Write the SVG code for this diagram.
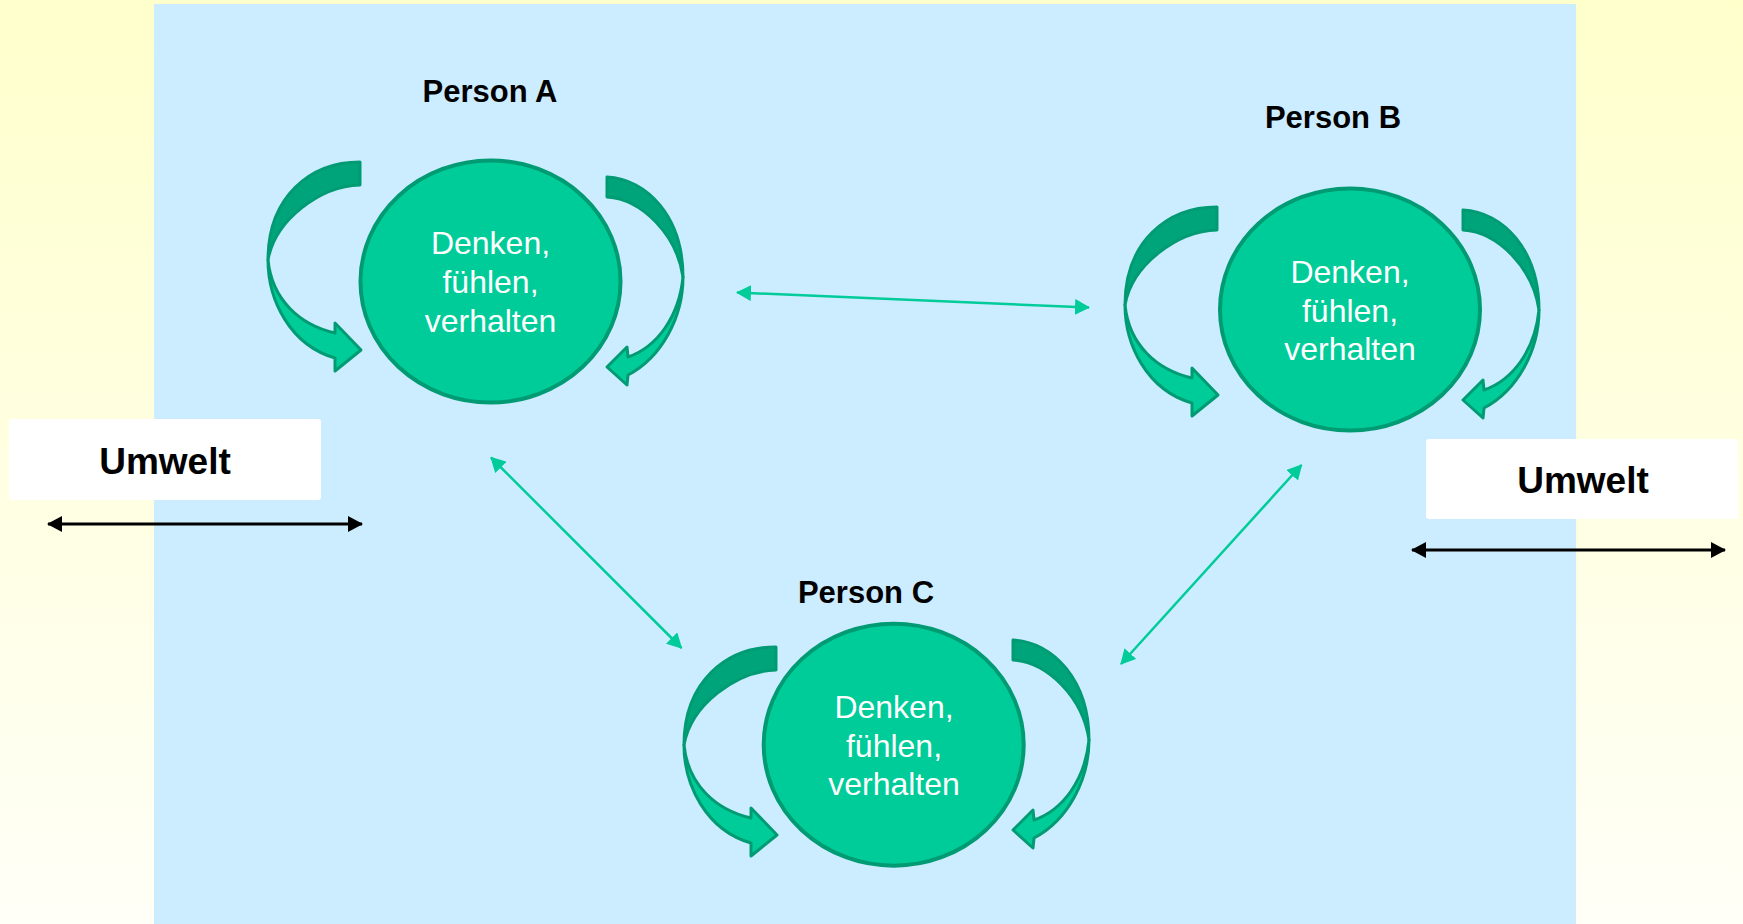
<svg xmlns="http://www.w3.org/2000/svg" xmlns:xlink="http://www.w3.org/1999/xlink" width="1743" height="924" viewBox="0 0 1743 924">
<style>
.person{font-family:"Liberation Sans",Arial,sans-serif;font-weight:bold;font-size:31px;fill:#000;text-anchor:middle}
.inner{font-family:"Liberation Sans",Arial,sans-serif;font-size:32px;fill:#fff;text-anchor:middle}
.umwelt{font-family:"Liberation Sans",Arial,sans-serif;font-weight:bold;font-size:37px;fill:#000;text-anchor:middle}
.circle{fill:#00CC99;stroke:#009B72;stroke-width:4}
.dark{fill:#00A47B;stroke:#009B72;stroke-width:3;stroke-linejoin:round}
.light{fill:#00CC99;stroke:#009B72;stroke-width:3;stroke-linejoin:round}
.conn{stroke:#00CC99;stroke-width:2.5;fill:none}
.env{stroke:#000;stroke-width:3;fill:none}
.box{fill:#fff}
</style>
<defs>
<linearGradient id="bg" x1="0" y1="0" x2="0" y2="1">
<stop offset="0" stop-color="#FFFFCC"/>
<stop offset="1" stop-color="#FFFFF7"/>
</linearGradient>
<marker id="gh" viewBox="0 0 15 16" refX="14" refY="8" markerWidth="15" markerHeight="16" markerUnits="userSpaceOnUse" orient="auto-start-reverse">
<path d="M0,0 L15,8 L0,16 Z" fill="#00CC99"/>
</marker>
<marker id="bh" viewBox="0 0 15 16" refX="14" refY="8" markerWidth="15" markerHeight="16" markerUnits="userSpaceOnUse" orient="auto-start-reverse">
<path d="M0,0 L15,8 L0,16 Z" fill="#000"/>
</marker>
<g id="leftArrow">
<path class="dark" d="M0,0 L0,23 C-40,24 -85,58 -92,98 C-92,35 -50,0 0,0 Z"/>
<path class="light" d="M-92,98 C-92,138 -70,183 -25,196 L-25,209 L1,188 L-25,161 L-25,171 C-60,163 -88,138 -92,98 Z"/>
</g>
<g id="rightArrow">
<path class="dark" d="M0,0 L0,20 C35,22 70,58 76,100 C76,40 40,2 0,0 Z"/>
<path class="light" d="M76,100 C76,140 55,180 21,198 L20,208 L0,190 L20,170 L21,180 C50,170 72,140 76,100 Z"/>
</g>
</defs>
<rect x="0" y="0" width="1743" height="924" fill="url(#bg)"/>
<rect x="154" y="4" width="1422" height="920" fill="#CCECFF"/>

<g id="umwelt-left">
<rect class="box" x="9" y="419" width="312" height="81" rx="3"/>
<text class="umwelt" x="165" y="474">Umwelt</text>
</g>
<g id="umwelt-right">
<rect class="box" x="1426" y="439" width="312" height="80" rx="3"/>
<text class="umwelt" x="1583" y="493">Umwelt</text>
</g>

<g id="connectors">
<line class="conn" x1="737" y1="292.5" x2="1089" y2="307.5" marker-start="url(#gh)" marker-end="url(#gh)"/>
<line class="conn" x1="491" y1="457.5" x2="681.5" y2="648" marker-start="url(#gh)" marker-end="url(#gh)"/>
<line class="conn" x1="1301.5" y1="465" x2="1121" y2="664" marker-start="url(#gh)" marker-end="url(#gh)"/>
<line class="env" x1="48" y1="524" x2="362" y2="524" marker-start="url(#bh)" marker-end="url(#bh)"/>
<line class="env" x1="1412" y1="550" x2="1725" y2="550" marker-start="url(#bh)" marker-end="url(#bh)"/>
</g>

<g id="person-a">
<text class="person" x="490" y="102">Person A</text>
<use xlink:href="#leftArrow" transform="translate(360,162)"/>
<use xlink:href="#rightArrow" transform="translate(607,177)"/>
<ellipse class="circle" cx="490.5" cy="281.5" rx="130" ry="121"/>
<text class="inner" x="490.5" y="254">Denken,</text>
<text class="inner" x="490.5" y="293">fühlen,</text>
<text class="inner" x="490.5" y="332">verhalten</text>
</g>

<g id="person-b">
<text class="person" x="1333" y="128">Person B</text>
<use xlink:href="#leftArrow" transform="translate(1217,207)"/>
<use xlink:href="#rightArrow" transform="translate(1463,210)"/>
<ellipse class="circle" cx="1350" cy="309.5" rx="130" ry="121"/>
<text class="inner" x="1350" y="283">Denken,</text>
<text class="inner" x="1350" y="322">fühlen,</text>
<text class="inner" x="1350" y="360">verhalten</text>
</g>

<g id="person-c">
<text class="person" x="866" y="603">Person C</text>
<use xlink:href="#leftArrow" transform="translate(776,647)"/>
<use xlink:href="#rightArrow" transform="translate(1013,640)"/>
<ellipse class="circle" cx="893.7" cy="744.7" rx="130" ry="121"/>
<text class="inner" x="894" y="718">Denken,</text>
<text class="inner" x="894" y="757">fühlen,</text>
<text class="inner" x="894" y="795">verhalten</text>
</g>
</svg>
